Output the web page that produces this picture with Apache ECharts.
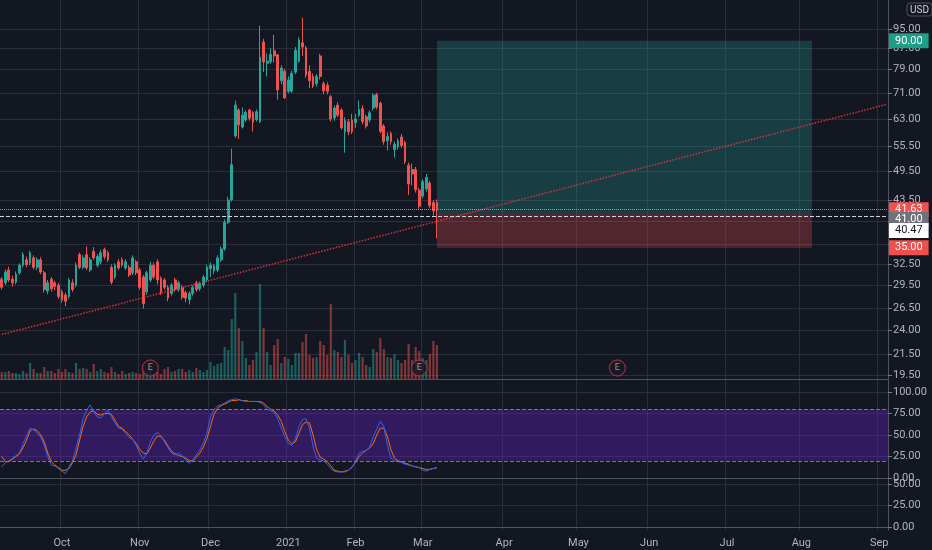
<!DOCTYPE html>
<html><head><meta charset="utf-8">
<script src="https://cdn.jsdelivr.net/npm/echarts@6/dist/echarts.min.js"></script>
<style>html,body{margin:0;padding:0;background:#131722;}#c{width:932px;height:550px;}</style>
</head><body><div id="c"></div>
<script>
// ---- data (daily bars from 2020-09-08 to 2021-03-05) ----
const opens = [30.3,29.8,31.6,30.3,29.9,31.2,32.3,33.1,32.6,33.4,32.0,33.1,31.2,28.7,30.3,29.8,29.5,
 28.6,28.2,28.0,29.8,29.5,33.9,32.0,33.9,31.6,34.4,32.3,32.8,34.7,34.2,32.0,30.6,32.8,33.1,31.9,32.0,31.2,32.8,31.6,
 30.6,28.6,30.2,32.3,32.8,30.4,30.2,29.2,28.4,30.2,28.9,29.2,28.5,27.6,28.4,29.8,29.0,29.5,30.2,
 31.8,31.5,31.6,33.1,34.8,39.3,43.5,58.3,65.6,60.7,62.7,65.6,64.9,62.8,62.3,89.5,81.2,81.8,86.0,84.4,75.0,78.3,
 71.5,71.5,78.0,82.0,89.2,87.2,78.3,76.5,74.0,84.0,74.0,73.5,69.7,63.3,67.1,65.6,59.4,62.2,62.7,
 62.0,64.1,66.0,63.6,62.7,66.2,70.4,67.7,61.0,57.0,59.0,54.8,55.4,58.0,56.6,51.0,50.0,50.0,45.5,
 44.3,45.8,47.0,43.0,43.0];
const closes = [29.2,31.3,30.2,29.8,31.0,32.3,33.9,32.4,34.2,32.0,33.1,31.3,28.9,29.8,29.0,29.3,28.0,
 27.6,27.4,30.2,28.9,32.3,32.0,33.4,31.9,33.1,33.4,33.6,34.2,33.6,33.1,29.9,32.3,31.9,32.3,32.8,30.9,33.4,31.2,29.2,
 27.1,31.2,32.3,30.6,30.2,28.6,29.2,27.8,29.5,28.9,29.8,27.9,27.8,28.4,29.2,28.9,29.7,30.6,32.0,
 32.3,32.2,33.4,34.8,39.3,43.5,51.1,67.1,61.3,64.1,64.9,63.2,62.1,65.1,83.5,81.7,82.0,84.6,84.0,71.9,79.5,69.4,
 75.3,77.6,86.3,90.4,87.5,77.0,75.0,73.3,76.5,76.5,71.6,71.5,63.0,66.2,64.1,60.5,62.7,59.4,59.4,
 63.0,65.8,62.2,61.0,64.8,70.2,66.5,59.5,56.8,58.2,56.8,56.1,57.0,55.8,51.9,46.8,49.0,45.6,42.3,
 47.3,48.2,42.4,41.4,41.63];
const lows = [28.9,29.5,29.9,29.3,29.6,30.9,32.0,32.0,32.3,31.7,31.6,31.0,28.5,28.3,28.6,28.8,27.7,
 27.2,26.8,27.7,28.6,29.2,31.7,31.7,31.6,31.3,33.1,32.0,32.5,33.2,32.8,29.6,30.3,31.6,32.0,31.6,30.6,30.9,30.9,28.9,
 26.5,28.2,29.9,30.3,29.6,28.2,28.9,27.4,28.1,28.6,28.6,27.6,27.3,27.0,28.1,28.6,28.7,29.2,29.9,
 30.6,31.0,31.3,32.8,34.5,39.0,43.2,57.8,57.5,60.3,62.2,62.5,59.5,62.3,61.8,78.0,76.5,81.0,81.5,68.8,73.8,69.0,
 70.8,71.0,77.3,81.5,84.0,76.0,72.5,72.5,73.0,75.5,70.5,70.5,62.3,62.5,63.5,60.0,54.0,58.5,58.8,
 60.5,63.5,61.5,60.3,62.0,65.5,65.8,59.0,56.0,54.5,56.0,52.8,54.8,55.2,51.3,44.5,46.5,45.0,41.8,
 43.8,45.2,41.9,40.5,36.5];
const highs = [30.6,31.7,32.1,30.8,31.4,32.6,34.3,33.6,34.5,33.8,33.5,33.5,31.5,30.2,30.6,30.1,29.8,
 28.9,28.5,30.5,30.3,32.7,34.2,33.8,35.2,33.5,35.1,34.0,34.6,35.0,34.5,32.4,32.6,33.2,33.5,33.2,32.3,33.8,33.1,31.9,
 30.9,31.5,32.8,32.7,33.2,30.7,30.5,29.5,29.8,30.5,30.1,29.5,28.8,28.7,29.5,30.1,30.0,30.9,32.4,
 32.7,32.5,33.8,35.2,39.8,44.2,55.0,68.5,66.2,66.3,65.5,66.0,65.3,65.8,96.5,90.8,85.0,87.0,92.5,84.8,80.5,79.2,
 76.5,78.5,87.5,91.5,100.0,88.0,80.5,77.5,77.3,84.8,74.8,74.5,70.3,67.0,68.0,66.2,63.5,63.0,64.5,
 64.5,68.5,67.0,64.2,65.5,70.8,71.0,68.2,61.5,59.3,59.5,56.8,57.6,58.8,57.0,51.6,51.3,50.6,46.0,
 47.8,49.0,47.5,43.5,43.6];
// volume (100k shares)
const volumes = [7,7,8,6,6,5,8,6,16,10,6,6,12,8,8,6,10,7,10,7,6,16,10,11,10,7,15,8,10,7,6,12,7,5,8,5,6,7,6,5,
 11,7,9,5,7,5,10,12,7,8,10,10,7,9,7,11,9,7,9,
 17,13,15,16,32,29,60,86,
 51,38,21,14,19,27,95,51,27,14,34,40,16,22,20,14,26,26,37,45,24,21,22,38,34,24,75,29,27,22,39,24,16,19,26,22,14,12,30,27,41,30,22,21,25,19,16,19,35,19,32,28,21,19,25,38,34];
// stochastic %K and %D
const stochK = [13,18,20,23,26,29,40,49,58,56,52,48,38,25,15,14,11,
 8,5,13,20,35,50,69,79,85,77,71,70,74,79,71,64,58,57,52,47,45,38,29,
 22,29,42,50,53,49,42,35,29,27,29,26,21,17,21,27,33,41,52,
 71,79,84,85,87,90,91,92,91,90,89,89,89,89,88,85,80,78,76,69,58,48,
 40,38,46,60,68,69,58,36,23,21,20,16,11,8,7,7,7,9,12,
 20,29,31,32,36,48,57,66,60,38,23,20,19,18,16,15,14,13,12,
 9,8,10,11,12];
const stochD = [25,19,19,22,25,28,35,44,55,57,55,50,42,29,19,15,12,
 9,9,11,18,27,44,60,71,77,78,74,73,75,75,74,67,60,58,54,50,45,40,33,
 29,28,35,43,49,48,44,37,31,28,26,25,23,20,20,24,29,36,46,
 60,74,81,84,86,88,90,90,91,90,90,89,89,89,89,87,83,80,78,73,66,54,
 44,40,42,52,62,65,64,50,33,24,22,19,14,9,8,7,8,9,13,
 18,25,29,32,35,40,50,58,58,48,33,23,20,19,17,16,14,13,12,
 11,10,10,11,12];
const earningsDates = ['2020-11-05','2021-02-26','2021-05-18'];
const priceTicks = [95,87,79,71,63,55.5,49.5,43.5,39.5,35.5,32.5,29.5,26.5,24,21.5,19.5];
const hiddenPriceTicks = [39.5,35.5];
const stochTicks = [0,25,50,75,100];
const paneTicks = [0,25,50];
const position = {start:'2021-03-05', end:'2021-08-05', entry:41.00, target:90.00, stop:35.00};
const lastPrice = 41.63, markPrice = 40.47;
const trendStart = 23.54, trendEnd = 67.3;
const monthNames = ['Jan','Feb','Mar','Apr','May','Jun','Jul','Aug','Sep','Oct','Nov','Dec'];
const holidays = ['2020-11-26','2020-12-25','2021-01-01','2021-01-18','2021-02-15','2021-04-02','2021-05-31','2021-07-05'];

// trading-day categories
const dates = [];
(function(){
  let t = Date.UTC(2020,8,8); const end = Date.UTC(2021,8,3);
  while (t <= end) { const d = new Date(t); const wd = d.getUTCDay(); const s = d.toISOString().slice(0,10);
    if (wd !== 0 && wd !== 6 && holidays.indexOf(s) < 0) dates.push(s); t += 86400000; }
})();
const isMonthStart = (i) => i > 0 && dates[i].slice(0,7) !== dates[i-1].slice(0,7);
const monthLabel = (v) => { const m = +v.slice(5,7); return m === 1 ? v.slice(0,4) : monthNames[m-1]; };

const UP='#26a69a', DOWN='#ef5350', GRID='#2a2e39', SEP='#50535e', TXT='#b2b5be';
const FONT='Roboto';
const candles = opens.map((o,i)=>[o, closes[i], lows[i], highs[i]]);
const volData = volumes.map((v,i)=>({value:v, itemStyle:{color: closes[i]>=opens[i] ? 'rgba(38,166,154,0.5)' : 'rgba(239,83,80,0.5)'}}));

const xBase = (grid, showLabel) => ({
  type:'category', gridIndex:grid, data:dates, boundaryGap:true,
  axisLine:{show:true, lineStyle:{color:SEP}}, axisTick:{show:false},
  axisLabel:{show:showLabel, interval:(i)=>isMonthStart(i), formatter:(v)=>monthLabel(v), color:TXT, fontSize:11, fontFamily:FONT, margin:8},
  splitLine:{show:true, interval:(i)=>isMonthStart(i), lineStyle:{color:GRID, width:1}}
});
const yBase = (grid, ticks) => ({
  type:'value', gridIndex:grid, position:'right',
  axisLine:{show:true, lineStyle:{color:SEP}},
  axisTick:{show:true, length:4, customValues:ticks, lineStyle:{color:'#787b86'}},
  axisLabel:{customValues:ticks, formatter:(v)=>(+v).toFixed(2), color:TXT, fontSize:11, fontFamily:FONT, margin:5},
  splitLine:{show:true, lineStyle:{color:GRID}}
});

const badge = (v, txt, bg, fg, off, line) => ({
  yAxis:v,
  lineStyle: line || {color:'rgba(0,0,0,0)', width:1},
  label:{show:true, position:'end', formatter:txt, backgroundColor:bg, color:fg, fontSize:11, fontFamily:FONT,
         padding:[2,6,2,6], distance:1, offset:[0,off]}
});

const yMain = Object.assign(yBase(0, priceTicks), {type:'log', min:19.21, max:108.45});
yMain.axisLabel.formatter = (v)=> hiddenPriceTicks.indexOf(+(+v).toFixed(2))>=0 ? '' : (+v).toFixed(2);

const option = {
  backgroundColor:'#131722',
  animation:false,
  textStyle:{fontFamily:FONT},
  grid:[
    {left:0, right:44, top:0, height:379},
    {left:0, right:44, top:259, height:120},
    {left:0, right:44, top:380, height:101},
    {left:0, right:44, top:481, height:49}
  ],
  xAxis:[ xBase(0,false), Object.assign(xBase(1,false),{show:false}), xBase(2,false), xBase(3,true) ],
  yAxis:[
    yMain,
    {type:'value', gridIndex:1, min:0, max:120, show:false},
    Object.assign(yBase(2, stochTicks), {min:-3.49, max:113.95}),
    Object.assign(yBase(3, paneTicks), {min:-3.5, max:53.5})
  ],
  graphic:[{type:'text', x:907, y:3, z:100, style:{text:'USD', fill:'#d1d4dc', fontSize:10, fontFamily:FONT,
    borderColor:'#50535e', borderWidth:1, borderRadius:3, padding:[2,3,1,3]}}],
  series:[
    {type:'candlestick', xAxisIndex:0, yAxisIndex:0, data:candles, barWidth:'65%',
     itemStyle:{color:UP, color0:DOWN, borderColor:UP, borderColor0:DOWN, borderWidth:1},
     markArea:{silent:true, data:[
       [{xAxis:position.start, yAxis:position.entry, itemStyle:{color:'rgba(38,166,154,0.28)'}}, {xAxis:position.end, yAxis:position.target}],
       [{xAxis:position.start, yAxis:position.stop, itemStyle:{color:'rgba(239,83,80,0.28)'}}, {xAxis:position.end, yAxis:position.entry}]
     ]},
     markLine:{silent:true, symbol:['none','none'], animation:false, data:[
       badge(position.target, position.target.toFixed(2), '#1e9e89', '#ffffff', 0),
       badge(lastPrice, lastPrice.toFixed(2), '#ef5350', '#ffffff', 0, {type:'dotted', color:'#c98b91', width:1}),
       badge(position.entry, position.entry.toFixed(2), '#6f727c', '#ffffff', 6.5),
       badge(markPrice, markPrice.toFixed(2), '#ffffff', '#131722', 14.6, {type:'dashed', color:'#d1d4dc', width:1}),
       badge(position.stop, position.stop.toFixed(2), '#ef4f4f', '#ffffff', 0)
     ]}
    },
    {type:'line', xAxisIndex:0, yAxisIndex:0, data:[[dates[0], trendStart],[dates[dates.length-1], trendEnd]],
     showSymbol:false, silent:true, lineStyle:{color:'#d8323a', type:'dotted', width:1.5}},
    {type:'bar', xAxisIndex:1, yAxisIndex:1, data:volData, barWidth:'62%'},
    {type:'scatter', xAxisIndex:1, yAxisIndex:1, data:earningsDates.map(d=>[d,11]), symbolSize:16, z:5,
     itemStyle:{color:'#161a25', borderColor:'#a8344a', borderWidth:1.3},
     label:{show:true, position:'inside', formatter:'E', color:'#e3a3ad', fontSize:9, fontFamily:FONT}},
    {type:'line', xAxisIndex:2, yAxisIndex:2, data:stochK, showSymbol:false, lineStyle:{color:'#2962ff', width:1}, z:4,
     markArea:{silent:true, data:[[{yAxis:20, itemStyle:{color:'rgba(95,35,185,0.4)'}},{yAxis:80}]]},
     markLine:{silent:true, symbol:['none','none'], label:{show:false}, lineStyle:{color:'#787b86', type:'dashed', width:1},
       data:[{yAxis:20},{yAxis:80}]}},
    {type:'line', xAxisIndex:2, yAxisIndex:2, data:stochD, showSymbol:false, lineStyle:{color:'#ff6d00', width:1}, z:3},
    {type:'line', xAxisIndex:3, yAxisIndex:3, data:[], showSymbol:false}
  ]
};
echarts.init(document.getElementById('c')).setOption(option);
</script></body></html>
